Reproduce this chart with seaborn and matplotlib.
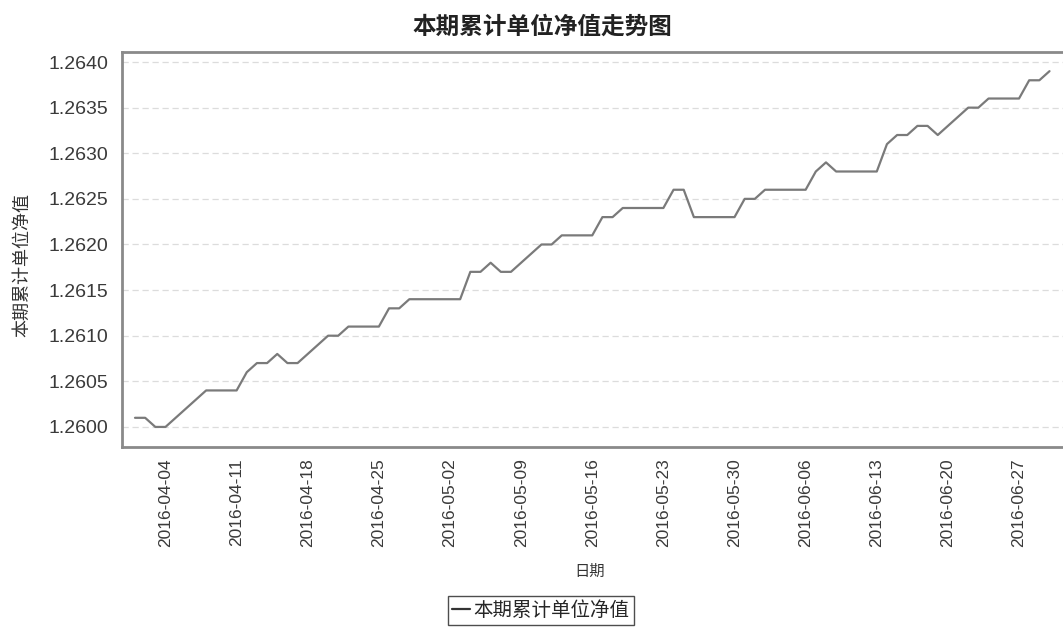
import pandas as pd
import matplotlib
matplotlib.use('Agg')
import matplotlib.pyplot as plt
import matplotlib.dates as mdates
import seaborn as sns

# ============================================================
# Données
# ============================================================
title = '本期累计单位净值走势图'
xlabel = '日期'
ylabel = '本期累计单位净值'
series_name = '本期累计单位净值'

start_date = '2016-04-01'
end_date = '2016-06-30'

nav = [
    1.2601, 1.2601, 1.2600, 1.2600, 1.2601, 1.2602, 1.2603, 1.2604, 1.2604, 1.2604,
    1.2604, 1.2606, 1.2607, 1.2607, 1.2608, 1.2607, 1.2607, 1.2608, 1.2609, 1.2610,
    1.2610, 1.2611, 1.2611, 1.2611, 1.2611, 1.2613, 1.2613, 1.2614, 1.2614, 1.2614,
    1.2614, 1.2614, 1.2614, 1.2617, 1.2617, 1.2618, 1.2617, 1.2617, 1.2618, 1.2619,
    1.2620, 1.2620, 1.2621, 1.2621, 1.2621, 1.2621, 1.2623, 1.2623, 1.2624, 1.2624,
    1.2624, 1.2624, 1.2624, 1.2626, 1.2626, 1.2623, 1.2623, 1.2623, 1.2623, 1.2623,
    1.2625, 1.2625, 1.2626, 1.2626, 1.2626, 1.2626, 1.2626, 1.2628, 1.2629, 1.2628,
    1.2628, 1.2628, 1.2628, 1.2628, 1.2631, 1.2632, 1.2632, 1.2633, 1.2633, 1.2632,
    1.2633, 1.2634, 1.2635, 1.2635, 1.2636, 1.2636, 1.2636, 1.2636, 1.2638, 1.2638,
    1.2639,
]

xtick_labels = ['2016-04-04', '2016-04-11', '2016-04-18', '2016-04-25', '2016-05-02',
                '2016-05-09', '2016-05-16', '2016-05-23', '2016-05-30', '2016-06-06',
                '2016-06-13', '2016-06-20', '2016-06-27']
yticks = [1.2600, 1.2605, 1.2610, 1.2615, 1.2620, 1.2625, 1.2630, 1.2635, 1.2640]

df = pd.DataFrame({'date': pd.date_range(start_date, end_date), 'nav': nav})

# ============================================================
# Figure
# ============================================================
sns.set_style('white')
plt.rcParams['font.family'] = ['Liberation Sans', 'Noto Sans CJK SC', 'DejaVu Sans']
cjk = ['Noto Sans CJK SC', 'DejaVu Sans']

W, H = 1063, 628
fig = plt.figure(figsize=(W / 100, H / 100), dpi=100)
# axes : gauche 122 px, haut 52 px, bas 447 px, droite au-delà du bord
ax = fig.add_axes([122 / W, 1 - 447 / H, (1080 - 122) / W, (447 - 52) / H])

sns.lineplot(data=df, x='date', y='nav', ax=ax, color='#7a7a7a', linewidth=1.6,
             label=series_name, legend=False)

t0 = pd.Timestamp(start_date)
ax.set_xlim(t0 - pd.Timedelta(days=1.28), t0 + pd.Timedelta(days=93.0))
ax.set_ylim(1.25978, 1.26411)

ax.set_xticks(pd.to_datetime(xtick_labels))
ax.xaxis.set_major_formatter(mdates.DateFormatter('%Y-%m-%d'))
ax.set_yticks(yticks)
ax.set_yticklabels([f'{v:.4f}' for v in yticks])
ax.tick_params(axis='x', labelrotation=90, labelsize=12.5, length=4, width=1,
               direction='out', pad=4)
ax.tick_params(axis='y', labelsize=14, length=4, width=1, direction='out', pad=6)
ax.tick_params(axis='both', color='#999999', labelcolor='#3a3a3a')

ax.yaxis.grid(True, color='#dcdcdc', linestyle=(0, (5, 3)), linewidth=0.9)
ax.xaxis.grid(False)

for side in ['left', 'bottom', 'top']:
    ax.spines[side].set_color('#8a8a8a')
    ax.spines[side].set_linewidth(2)
ax.spines['right'].set_visible(False)

ax.set_xlabel(xlabel, family=cjk, fontsize=11, color='#333333')
ax.set_ylabel(ylabel, family=cjk, fontsize=13, color='#333333')
ax.xaxis.set_label_coords((590 - 122) / 958, (447 - 563) / 395)
ax.yaxis.set_label_coords((31 - 122) / 958, (447 - 265) / 395)

fig.suptitle(title, x=542 / W, y=1 - 15 / H, va='top', family=cjk,
             fontsize=17, fontweight='bold', color='#222222')

handles, labels = ax.get_legend_handles_labels()
leg = fig.legend(handles, labels, loc='upper center',
                 bbox_to_anchor=(541 / W, 1 - 596 / H), frameon=True,
                 fancybox=False, handlelength=0.9, handletextpad=0.2,
                 borderpad=0.2, borderaxespad=0, prop={'family': cjk, 'size': 14})
leg.get_frame().set_edgecolor('#222222')
leg.get_frame().set_linewidth(1.0)
for line in leg.get_lines():
    line.set_color('#333333')

fig.savefig('out.png', dpi=100)
